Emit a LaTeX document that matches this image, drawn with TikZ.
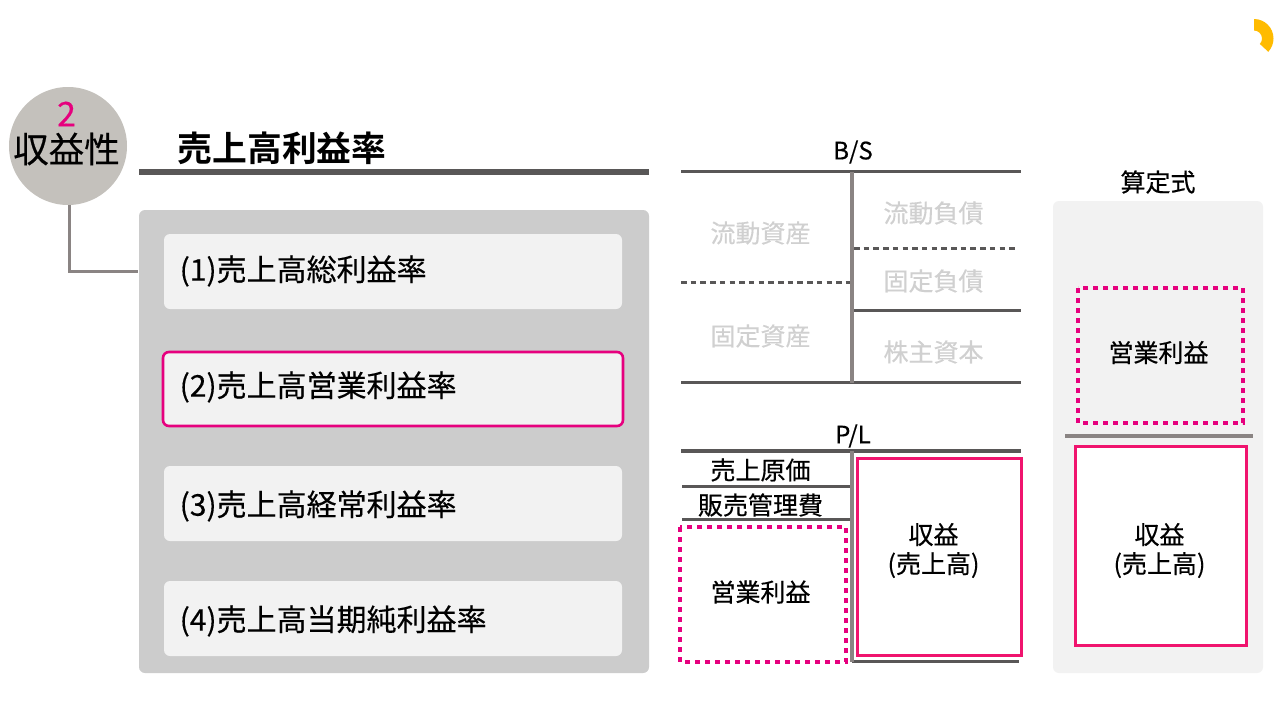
\documentclass[tikz,border=0pt]{standalone}
\usepackage{fontspec}
\setmainfont{Noto Sans CJK JP}[FakeBold=0.35,BoldFont={Noto Sans CJK JP Bold},BoldFeatures={FakeBold=0}]
\definecolor{pinkc}{HTML}{E6007E}
\definecolor{rosec}{HTML}{F0146E}
\definecolor{darkl}{HTML}{595757}
\definecolor{midl}{HTML}{8A8483}
\definecolor{panel}{HTML}{CCCCCC}
\definecolor{card}{HTML}{F2F2F2}
\definecolor{circ}{HTML}{C4C1BC}
\definecolor{fade}{HTML}{D0D0D0}
\definecolor{sun}{HTML}{FFBB00}
\tikzset{
 txt/.style={inner sep=0pt,text=black,align=center},
 itemtxt/.style={inner sep=0pt,anchor=west,font=\fontsize{30}{32}\selectfont},
 lab/.style={txt,font=\fontsize{25}{29}\selectfont},
 faded/.style={lab,text=fade},
 darkline/.style={draw=darkl,line width=3pt},
 vline/.style={draw=midl,line width=3.4pt},
 dashl/.style={draw=darkl,line width=3pt,dash pattern=on 5.5pt off 4.2pt},
 pinkdash/.style={draw=pinkc,line width=3.2pt,dash pattern=on 5pt off 5pt},
 rosebox/.style={draw=rosec,line width=3pt,fill=white},
}
\begin{document}
\begin{tikzpicture}[x=1pt,y=-1pt]
\useasboundingbox (0,0) rectangle (1280,720);
\fill[white] (0,0) rectangle (1280,720);
% logo
\fill[sun] (1254,19) arc[start angle=-90,end angle=43,radius=19.5] -- ++(-8.41,-7.84) arc[start angle=43,end angle=-90,radius=8] -- cycle;
% connector
\coordinate (elbow) at (69,271.3);
\node[circle,fill=circ,minimum size=118pt,inner sep=0pt] (badge) at (68,146) {};
\node[inner sep=0pt] (panelanchor) at (139,271.3) {};
\draw[draw=midl,line width=3pt] (elbow |- badge.south) -- (elbow) -- (panelanchor);
\node[txt,text=pinkc,font=\fontsize{34}{36}\selectfont] (num) at (66.5,114) {2};
\node[txt,font=\fontsize{35.5}{37}\selectfont] (badgetxt) at (66.5,149) {収益性};
% title
\node[txt,font=\bfseries\fontsize{34.8}{37}\selectfont,anchor=west] (title) at (177.5,148) {売上高利益率};
\coordinate (ta) at (139,172.3); \coordinate (tb) at (649,172.3);
\draw[draw=darkl,line width=6pt] (ta) -- (tb);
% left panel
\fill[panel,rounded corners=6pt] (139,210) rectangle (649,673);
\fill[card,rounded corners=6pt] (164,234) rectangle (622,309);
\fill[card,rounded corners=6pt] (163,352) rectangle (623,426);
\draw[pinkc,line width=2.6pt,rounded corners=6pt] (163,352) rectangle (623,426);
\fill[card,rounded corners=6pt] (164,466) rectangle (622,541);
\fill[card,rounded corners=6pt] (164,581) rectangle (622,656);
\node[itemtxt] (i1) at (179.5,271) {(1)売上高総利益率};
\node[itemtxt] (i2) at (179.5,387) {(2)売上高営業利益率};
\node[itemtxt] (i3) at (179.5,506) {(3)売上高経常利益率};
\node[itemtxt] (i4) at (179.5,621) {(4)売上高当期純利益率};
% B/S
\node[lab,font=\fontsize{24}{26}\selectfont] (bs) at (853,152) {B/S};
\coordinate (b1) at (681,171.5); \coordinate (b2) at (1021,171.5);
\coordinate (b3) at (681,382.5); \coordinate (b4) at (1021,382.5);
\coordinate (bv1) at (852,171.5); \coordinate (bv2) at (852,383);
\draw[darkline,line width=3.4pt] (b1) -- (b2);
\draw[darkline,line width=3.4pt] (b3) -- (b4);
\draw[dashl] (681,282.5) -- (851,282.5);
\draw[dashl] (854,248.5) -- (1015,248.5);
\draw[darkline] (852,310.5) -- (1021,310.5);
\draw[vline] (bv1) -- (bv2);
\node[faded] (n1) at (760.5,233) {流動資産};
\node[faded] (n2) at (760.5,336) {固定資産};
\node[faded] (n3) at (933.5,213) {流動負債};
\node[faded] (n4) at (933.5,281) {固定負債};
\node[faded] (n5) at (933.5,352) {株主資本};
% P/L
\node[lab,font=\fontsize{24}{26}\selectfont] (pl) at (853,436) {P/L};
\draw[darkline,line width=3.4pt] (681,451) -- (1021,451);
\draw[darkline,line width=3.4pt] (852,661.5) -- (1019,661.5);
\draw[darkline] (682,486.5) -- (851,486.5);
\draw[darkline] (682,519.5) -- (851,519.5);
\draw[vline] (852,451) -- (852,662);
\node[lab] (p1) at (760.5,470) {売上原価};
\node[lab] (p2) at (760.5,505) {販売管理費};
\draw[pinkdash] (680,527) rectangle (846,662);
\node[lab] (p3) at (760.5,592) {営業利益};
\draw[rosebox] (857.5,458) rectangle (1021.5,655.5);
\node[lab] (p4) at (933.5,550.5) {収益\\(売上高)};
% formula
\node[lab] (f0) at (1158,182) {算定式};
\fill[card,rounded corners=6pt] (1053,201) rectangle (1263,673);
\draw[pinkdash] (1078,288) rectangle (1243,423);
\node[lab] (f1) at (1158.5,352.5) {営業利益};
\draw[draw=midl,line width=3.4pt] (1065,436) -- (1253,436);
\draw[rosebox] (1075,446.5) rectangle (1246.5,645.5);
\node[lab] (f2) at (1159.5,550.5) {収益\\(売上高)};
\end{tikzpicture}
\end{document}
